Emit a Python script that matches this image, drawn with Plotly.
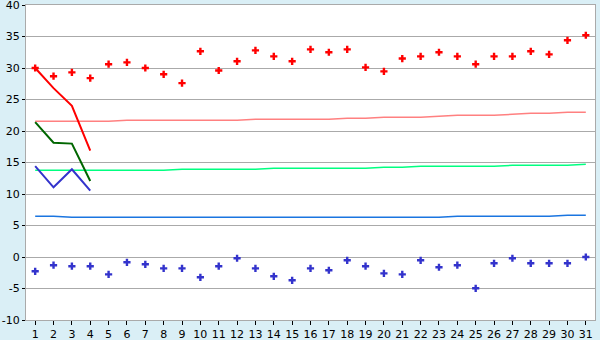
import plotly.graph_objects as go

days = list(range(1, 32))

max_pts = [30.0, 28.7, 29.3, 28.4, 30.6, 30.9, 30.0, 29.0, 27.6, 32.65,
           29.6, 31.06, 32.8, 31.85, 31.06, 32.96, 32.5, 32.96, 30.1, 29.47,
           31.5, 31.85, 32.5, 31.85, 30.6, 31.85, 31.85, 32.65, 32.17, 34.4, 35.2]

min_pts = [-2.27, -1.3, -1.46, -1.46, -2.75, -0.84, -1.16, -1.8, -1.8, -3.22,
           -1.46, -0.2, -1.8, -3.06, -3.7, -1.8, -2.1, -0.52, -1.46, -2.6,
           -2.75, -0.52, -1.63, -1.3, -4.97, -1.0, -0.2, -1.0, -1.0, -1.0, 0.0]

cur_days = [1, 2, 3, 4]
cur_max = [30.0, 26.8, 24.0, 16.9]
cur_avg = [21.4, 18.15, 18.0, 12.06]
cur_min = [14.44, 11.06, 13.92, 10.53]

norm_max = [21.54, 21.54, 21.54, 21.54, 21.54, 21.70, 21.70, 21.70, 21.70, 21.70,
            21.70, 21.70, 21.86, 21.86, 21.86, 21.86, 21.86, 22.02, 22.02, 22.17,
            22.17, 22.17, 22.33, 22.49, 22.49, 22.49, 22.65, 22.81, 22.81, 22.97, 22.97]
norm_avg = [13.76, 13.76, 13.76, 13.76, 13.76, 13.76, 13.76, 13.76, 13.92, 13.92,
            13.92, 13.92, 13.92, 14.08, 14.08, 14.08, 14.08, 14.08, 14.08, 14.24,
            14.24, 14.39, 14.39, 14.39, 14.39, 14.39, 14.55, 14.55, 14.55, 14.55, 14.71]
norm_min = [6.46, 6.46, 6.30, 6.30, 6.30, 6.30, 6.30, 6.30, 6.30, 6.30,
            6.30, 6.30, 6.30, 6.30, 6.30, 6.30, 6.30, 6.30, 6.30, 6.30,
            6.30, 6.30, 6.30, 6.46, 6.46, 6.46, 6.46, 6.46, 6.46, 6.62, 6.62]

y_ticks = [-10, -5, 0, 5, 10, 15, 20, 25, 30, 35, 40]
y_labels = ["-10", "-5", "0", "5", "10", "15", "20", "25", "30", "35", "40"]

fig = go.Figure()
fig.add_trace(go.Scatter(x=days, y=norm_max, mode="lines", line=dict(color="#ff8080", width=1.5)))
fig.add_trace(go.Scatter(x=days, y=norm_avg, mode="lines", line=dict(color="#00ff80", width=1.5)))
fig.add_trace(go.Scatter(x=days, y=norm_min, mode="lines", line=dict(color="#1a75e0", width=1.5)))
fig.add_trace(go.Scatter(x=cur_days, y=cur_max, mode="lines", line=dict(color="#ff0000", width=2)))
fig.add_trace(go.Scatter(x=cur_days, y=cur_avg, mode="lines", line=dict(color="#006600", width=2)))
fig.add_trace(go.Scatter(x=cur_days, y=cur_min, mode="lines", line=dict(color="#3333cc", width=2)))
fig.add_trace(go.Scatter(x=days, y=max_pts, mode="markers",
                         marker=dict(symbol="cross", size=6, color="#ff0000", line=dict(width=0))))
fig.add_trace(go.Scatter(x=days, y=min_pts, mode="markers",
                         marker=dict(symbol="cross", size=6, color="#3333cc", line=dict(width=0))))

axis_font = dict(family="DejaVu Sans, Verdana, sans-serif", size=11, color="#000000")
fig.update_layout(
    width=600, height=340,
    margin=dict(l=26, r=5, t=5, b=20),
    paper_bgcolor="#daeff6",
    plot_bgcolor="#ffffff",
    showlegend=False,
    xaxis=dict(range=[0.5, 31.5], tickvals=days, ticktext=[str(d) for d in days],
               showgrid=False, zeroline=False, showline=True, linecolor="#aaaaaa",
               linewidth=1, mirror=True, ticks="outside", ticklen=4, tickcolor="#000000",
               tickfont=axis_font, ticklabeloverflow="allow", automargin=False),
    yaxis=dict(range=[-10, 40], tickvals=y_ticks, ticktext=y_labels,
               showgrid=True, gridcolor="#aaaaaa", gridwidth=1, zeroline=False,
               showline=True, linecolor="#aaaaaa", linewidth=1, mirror=True,
               ticks="outside", ticklen=3, tickcolor="#000000", tickfont=axis_font,
               ticklabeloverflow="allow", automargin=False),
)
fig.write_html("out.html")
